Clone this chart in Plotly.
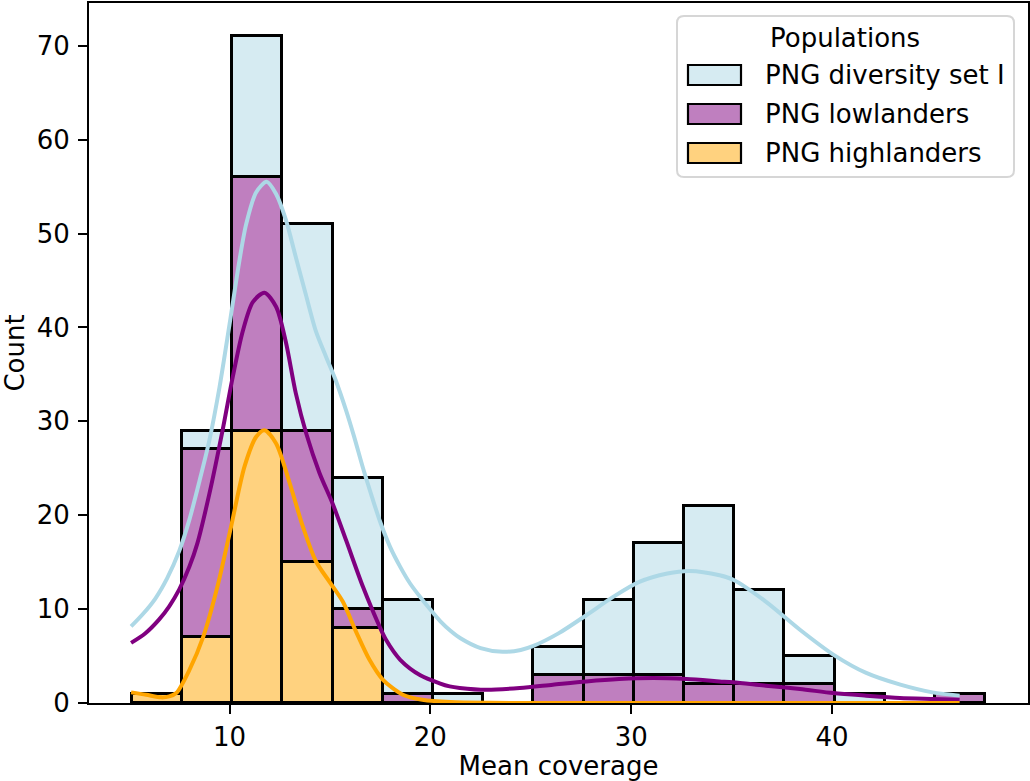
import plotly.graph_objects as go

# ---- data ----
populations = ["PNG highlanders", "PNG lowlanders", "PNG diversity set I"]
legend_order = ["PNG diversity set I", "PNG lowlanders", "PNG highlanders"]
legend_title = "Populations"

bin_edges = [5.13, 7.63, 10.13, 12.63, 15.13, 17.63, 20.13, 22.63, 25.13,
             27.63, 30.13, 32.63, 35.13, 37.63, 40.13, 42.63, 45.13, 47.63]

counts_highlanders = [1, 7, 29, 15, 8, 0, 0, 0, 0, 0, 0, 0, 0, 0, 0, 0, 0]
counts_lowlanders = [0, 20, 27, 14, 2, 1, 0, 0, 3, 3, 3, 2, 2, 2, 0, 0, 1]
counts_diversity = [0, 2, 15, 22, 14, 10, 1, 0, 3, 8, 14, 19, 10, 3, 1, 0, 0]

# stacked KDE curves (cumulative heights, in counts)
kde_x_diversity = [5.1, 5.7, 6.3, 6.9, 7.5, 8.0, 8.5, 9.0, 9.5, 10.0, 10.5, 10.83, 11.33,
                   11.85, 12.32, 12.8, 13.3, 13.8, 14.3, 14.8, 15.3, 15.8, 16.2, 16.65,
                   17.1, 17.5, 18.0, 18.5, 19.0, 19.6, 20.1, 20.5, 21.0, 21.5, 22.5,
                   23.6, 24.5, 25.1, 26.4, 27.8, 29.1, 30.4, 31.8, 32.9, 34.4, 35.1,
                   36.7, 38.4, 40.1, 41.7, 43.4, 45.0, 46.35]
kde_y_diversity = [8.15, 9.5, 11.1, 13.3, 16.2, 19.5, 23.6, 28.0, 33.6, 40.3, 47.2, 51.0, 54.4,
                   55.5, 54.2, 51.5, 47.5, 43.5, 39.6, 36.9, 34.3, 31.2, 28.4, 25.0,
                   21.9, 19.3, 16.6, 14.5, 12.7, 11.0, 9.7, 8.7, 7.7, 6.9, 5.85,
                   5.45, 5.65, 6.05, 7.44, 9.4, 11.3, 12.9, 13.8, 14.07, 13.6, 13.1,
                   10.8, 7.8, 5.1, 3.2, 1.95, 1.13, 0.78]

kde_x_lowlanders = [5.1, 5.8, 6.5, 7.0, 7.5, 8.0, 8.4, 9.0, 9.67, 10.16, 10.66, 11.16, 11.74,
                    12.32, 12.8, 13.3, 13.82, 14.48, 15.14, 15.81, 16.64, 17.47, 17.8, 18.5,
                    19.5, 20.46, 20.96, 21.46, 22.8, 24.45, 26.1, 27.77, 29.4, 31.1,
                    32.75, 34.4, 35.07, 36.7, 38.4, 40.06, 41.7, 43.37, 45.0, 46.35]
kde_y_lowlanders = [6.4, 7.4, 8.9, 10.3, 12.1, 14.5, 17.0, 22.3, 29.2, 34.7, 39.6, 42.7, 43.7,
                    42.2, 38.5, 33.0, 28.7, 24.5, 21.2, 17.3, 12.4, 8.15, 6.7, 4.6,
                    2.95, 2.1, 1.77, 1.6, 1.4, 1.6, 1.95, 2.3, 2.55, 2.66,
                    2.55, 2.3, 2.2, 1.84, 1.49, 1.06, 0.78, 0.53, 0.43, 0.35]

kde_x_highlanders = [5.1, 5.85, 6.6, 7.0, 7.35, 8.0, 8.7, 9.4, 10.08, 10.75, 11.33,
                     11.74, 12.32, 13.0, 13.65, 14.3, 14.98, 15.64, 16.3, 16.97, 17.63,
                     18.63, 19.6, 21.0, 23.0, 26.0, 30.0, 35.0, 40.0, 46.35]
kde_y_highlanders = [1.13, 0.88, 0.6, 0.7, 1.06, 3.5, 7.1, 12.4, 18.8, 25.2, 28.35,
                     29.06, 27.65, 23.4, 18.8, 15.1, 12.9, 10.8, 7.6, 4.6, 2.5,
                     0.88, 0.35, 0.1, 0.02, 0.0, 0.0, 0.0, 0.0, 0.0]

x_ticks = [10, 20, 30, 40]
y_ticks = [0, 10, 20, 30, 40, 50, 60, 70]

# ---- styling ----
FONT = "DejaVu Sans"
FS = 26
W, H = 1030, 781
ML, MR, MT, MB = 89, 2, 3, 78

fill = {
    "PNG diversity set I": "rgba(173,216,230,0.5)",
    "PNG lowlanders": "rgba(128,0,128,0.5)",
    "PNG highlanders": "rgba(255,165,0,0.5)",
}
line_col = {
    "PNG diversity set I": "lightblue",
    "PNG lowlanders": "purple",
    "PNG highlanders": "orange",
}

centers = [(a + b) / 2 for a, b in zip(bin_edges[:-1], bin_edges[1:])]
widths = [b - a for a, b in zip(bin_edges[:-1], bin_edges[1:])]

counts = {
    "PNG highlanders": counts_highlanders,
    "PNG lowlanders": counts_lowlanders,
    "PNG diversity set I": counts_diversity,
}

fig = go.Figure()
for pop in populations:  # bottom to top
    fig.add_trace(go.Bar(
        x=centers, y=counts[pop], width=widths, name=pop, showlegend=False,
        marker=dict(color=fill[pop], line=dict(color="black", width=2.6)),
        hoverinfo="skip",
    ))

kdes = [
    ("PNG diversity set I", kde_x_diversity, kde_y_diversity),
    ("PNG lowlanders", kde_x_lowlanders, kde_y_lowlanders),
    ("PNG highlanders", kde_x_highlanders, kde_y_highlanders),
]
for pop, kx, ky in kdes:
    fig.add_trace(go.Scatter(
        x=kx, y=ky, mode="lines", showlegend=False,
        line=dict(color=line_col[pop], width=4, shape="spline", smoothing=0.8),
        hoverinfo="skip",
    ))

# ---- matplotlib-like legend drawn in paper coordinates ----
PW, PH = W - ML - MR, H - MT - MB


def px(xp):
    return (xp - ML) / PW


def py(yp):
    return (H - MB - yp) / PH


shapes = []
bx0, bx1, by0, by1, r = 677, 1014, 16, 177, 7
pts = (f"M {px(bx0 + r)},{py(by0)} L {px(bx1 - r)},{py(by0)} "
       f"Q {px(bx1)},{py(by0)} {px(bx1)},{py(by0 + r)} "
       f"L {px(bx1)},{py(by1 - r)} Q {px(bx1)},{py(by1)} {px(bx1 - r)},{py(by1)} "
       f"L {px(bx0 + r)},{py(by1)} Q {px(bx0)},{py(by1)} {px(bx0)},{py(by1 - r)} "
       f"L {px(bx0)},{py(by0 + r)} Q {px(bx0)},{py(by0)} {px(bx0 + r)},{py(by0)} Z")
shapes.append(dict(type="path", path=pts, xref="paper", yref="paper",
                   fillcolor="rgba(255,255,255,0.8)",
                   line=dict(color="#d6d6d6", width=2), layer="above"))
annotations = [dict(text=legend_title, x=px(845), y=py(38), xref="paper", yref="paper",
                    xanchor="center", yanchor="middle", showarrow=False,
                    font=dict(family=FONT, size=FS, color="black"))]
row_y = [75, 114, 153]
for pop, ry in zip(legend_order, row_y):
    shapes.append(dict(type="rect", xref="paper", yref="paper",
                       x0=px(688), x1=px(741), y0=py(ry - 10), y1=py(ry + 10),
                       fillcolor=fill[pop], line=dict(color="black", width=2.2),
                       layer="above"))
    annotations.append(dict(text=pop, x=px(763), y=py(ry), xref="paper", yref="paper",
                            xanchor="left", yanchor="middle", showarrow=False,
                            font=dict(family=FONT, size=FS, color="black")))

axis_common = dict(
    showgrid=False, zeroline=False, showline=True, linecolor="black", linewidth=2,
    mirror=True, ticks="outside", ticklen=9, tickwidth=2, tickcolor="black",
    tickfont=dict(family=FONT, size=FS, color="black"), automargin=False,
)

fig.update_layout(
    width=W, height=H,
    margin=dict(l=ML, r=MR, t=MT, b=MB),
    paper_bgcolor="white", plot_bgcolor="white",
    barmode="stack", bargap=0, showlegend=False,
    font=dict(family=FONT, size=FS, color="black"),
    xaxis=dict(range=[3.005, 49.755], tickvals=x_ticks,
               title=dict(text="Mean coverage", font=dict(family=FONT, size=FS), standoff=20),
               ticklabelstandoff=1, **axis_common),
    yaxis=dict(range=[0, 74.55], tickvals=y_ticks,
               title=dict(text="Count", font=dict(family=FONT, size=FS), standoff=10),
               ticklabelstandoff=3, **axis_common),
    shapes=shapes,
    annotations=annotations,
)

fig.write_html("out.html", config={"displayModeBar": False},
               post_script="document.body.style.margin='0px';")
